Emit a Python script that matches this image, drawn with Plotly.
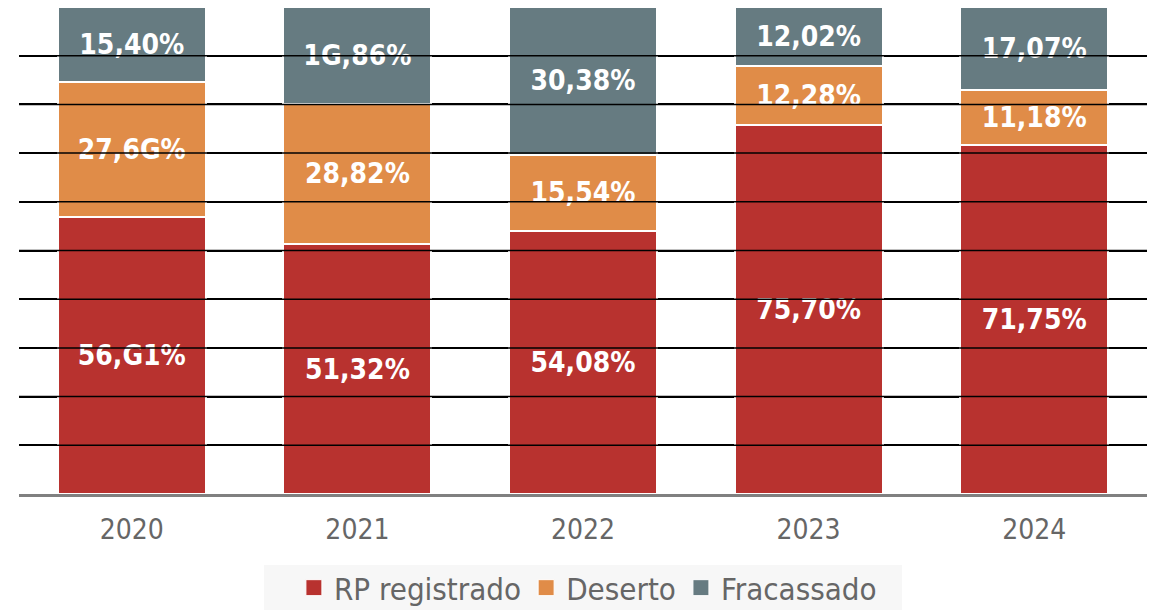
import plotly.graph_objects as go

years = ["2020", "2021", "2022", "2023", "2024"]
rp_registrado = [56.91, 51.32, 54.08, 75.70, 71.75]
deserto = [27.69, 28.82, 15.54, 12.28, 11.18]
fracassado = [15.40, 19.86, 30.38, 12.02, 17.07]

rp_labels = ["56,G1%", "51,32%", "54,08%", "75,70%", "71,75%"]
deserto_labels = ["27,6G%", "28,82%", "15,54%", "12,28%", "11,18%"]
fracassado_labels = ["15,40%", "1G,86%", "30,38%", "12,02%", "17,07%"]

series = [
    ("RP registrado", rp_registrado, rp_labels, "#B8322F"),
    ("Deserto", deserto, deserto_labels, "#E08C48"),
    ("Fracassado", fracassado, fracassado_labels, "#667B81"),
]

FONT = "DejaVu Sans Condensed"

fig = go.Figure()
for name, vals, labels, color in series:
    fig.add_trace(go.Bar(
        x=years, y=vals, name=name, text=labels, legendgroup=name, showlegend=False,
        textposition="inside", insidetextanchor="middle",
        textangle=0,
        textfont=dict(family=FONT, size=28, color="white", weight="bold"),
        marker=dict(color=color, line=dict(color="white", width=2)),
    ))
# legend entries with larger square swatches
for name, vals, labels, color in series:
    fig.add_trace(go.Scatter(
        x=[None], y=[None], mode="markers", name=name, legendgroup=name,
        marker=dict(symbol="square", size=16, color=color, line=dict(color="white", width=1)),
        showlegend=True, hoverinfo="skip",
    ))

grid_levels = list(range(10, 100, 10))
for g in grid_levels:
    fig.add_shape(type="line", xref="paper", x0=0, x1=1, yref="y", y0=g, y1=g,
                  line=dict(color="black", width=1.5), layer="above")

# legend background panel
fig.add_shape(type="rect", xref="paper", yref="paper",
              x0=0.2172, x1=0.7828, y0=-0.1458, y1=-0.26,
              fillcolor="#F7F7F7", line=dict(width=0), layer="below")

fig.update_layout(
    width=1155, height=610,
    margin=dict(l=19, r=8, t=7, b=116, autoexpand=False),
    barmode="stack", bargap=0.344,
    plot_bgcolor="white", paper_bgcolor="white",
    uniformtext=dict(minsize=10, mode="show"),
    showlegend=True,
    legend=dict(
        orientation="h", x=0.2437, xanchor="left", y=-0.1376, yanchor="top",
        bgcolor="rgba(0,0,0,0)", traceorder="normal",
        font=dict(family=FONT, size=31, color="#666666"),
        itemwidth=30,
    ),
    xaxis=dict(
        showline=True, linecolor="#808080", linewidth=3,
        ticks="", showgrid=False,
        tickfont=dict(family=FONT, size=28, color="#666666"),
        ticklabelstandoff=8,
    ),
    yaxis=dict(
        range=[0, 100], dtick=10, showgrid=True, gridcolor="black", gridwidth=1.5,
        showticklabels=False, zeroline=False, showline=False, ticks="",
    ),
)

fig.write_html(
    "out.html",
    config={"displayModeBar": False},
    post_script="document.body.style.margin='0';document.body.style.overflow='hidden';",
)
